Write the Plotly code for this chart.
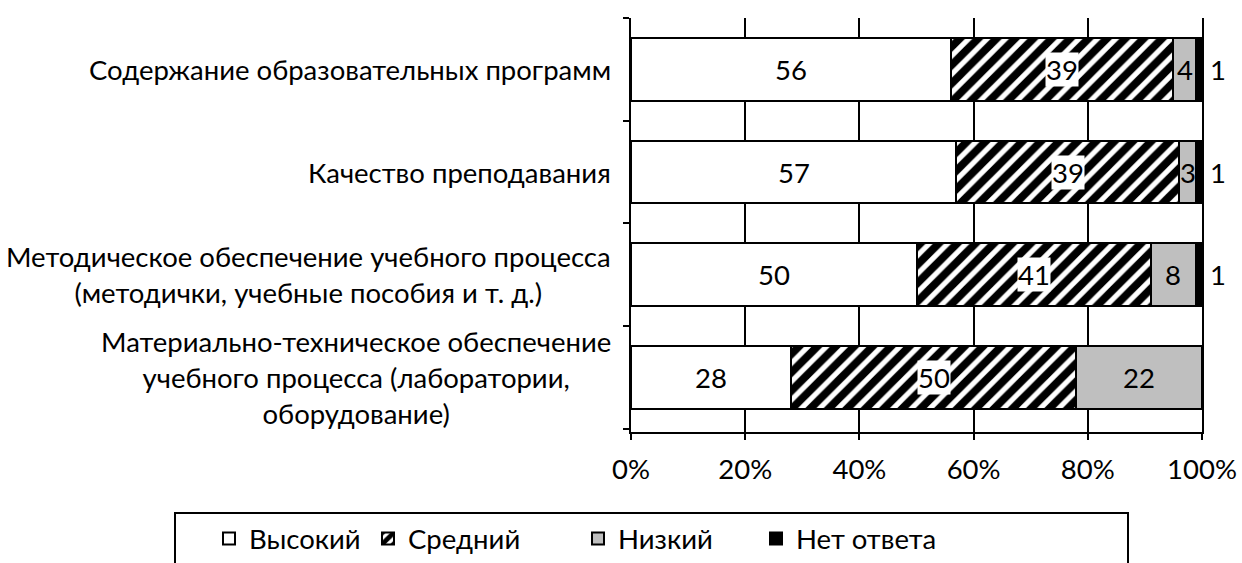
import plotly.graph_objects as go

categories = [
    "Содержание образовательных программ",
    "Качество преподавания",
    "Методическое обеспечение учебного процесса<br>(методички, учебные пособия и т. д.)",
    "Материально-техническое обеспечение<br>учебного процесса (лаборатории,<br>оборудование)",
]
series_names = ["Высокий", "Средний", "Низкий", "Нет ответа"]
high = [56, 57, 50, 28]
medium = [39, 39, 41, 50]
low = [4, 3, 8, 22]
no_answer = [1, 1, 1, 0]
x_ticks = [0, 20, 40, 60, 80, 100]
x_tick_labels = ["0%", "20%", "40%", "60%", "80%", "100%"]

FONT = "Lato"
FS = 27.5
values = [high, medium, low, no_answer]
fills = ["white", "white", "#bfbfbf", "black"]
legend_widths = [114, 165, 133, 160]

W, H = 1242, 563
L, R, T, B = 631, 40, 18, 131
PW, PH = W - L - R, H - T - B

fig = go.Figure()
for i, (name, vals) in enumerate(zip(series_names, values)):
    marker = dict(color=fills[i], line=dict(color="black", width=2))
    if i == 1:
        marker["pattern"] = dict(shape="/", fgcolor="black", bgcolor="white", fgopacity=1,
                                 size=13, solidity=0.6, fillmode="overlay")
    fig.add_trace(go.Bar(
        name=name, y=categories, x=vals, orientation="h",
        marker=marker, hoverinfo="skip", legendwidth=legend_widths[i],
    ))

annotations = []
for ci, cat in enumerate(categories):
    start = 0
    for si, vals in enumerate(values):
        v = vals[ci]
        if v > 0:
            if si == 3:
                annotations.append(dict(x=100, y=cat, xref="x", yref="y", text=str(v),
                                        showarrow=False, xanchor="left", xshift=6,
                                        font=dict(family=FONT, size=FS, color="black")))
            else:
                annotations.append(dict(x=start + v / 2, y=cat, xref="x", yref="y", text=str(v),
                                        showarrow=False, bgcolor="white" if si == 1 else None,
                                        borderpad=0,
                                        font=dict(family=FONT, size=FS, color="black")))
        start += v
    annotations.append(dict(x=0, y=cat, xref="paper", yref="y", text=cat, showarrow=False,
                            xanchor="right", align="center", xshift=-18,
                            font=dict(family=FONT, size=FS, color="black")))


def px_x(p):
    return (p - L) / PW


def px_y(p):
    return (H - B - p) / PH


# legend frame (extends below the visible page like the reference)
shapes = [dict(type="rect", xref="paper", yref="paper",
               x0=px_x(175), x1=px_x(1128), y0=px_y(513), y1=px_y(620),
               line=dict(color="black", width=2), fillcolor="rgba(0,0,0,0)", layer="above")]

fig.update_layout(
    barmode="stack",
    bargap=0.39,
    width=W, height=H,
    margin=dict(l=L, r=R, t=T, b=B, autoexpand=False),
    plot_bgcolor="white", paper_bgcolor="white",
    font=dict(family=FONT, size=FS, color="black"),
    annotations=annotations,
    shapes=shapes,
    showlegend=True,
    legend=dict(
        orientation="h", xref="paper", yref="paper",
        x=px_x(209), xanchor="left", y=px_y(514), yanchor="top",
        borderwidth=0, bgcolor="rgba(0,0,0,0)",
        traceorder="normal",
        font=dict(family=FONT, size=FS, color="black"),
    ),
    xaxis=dict(
        range=[0, 100], tickvals=x_ticks, ticktext=x_tick_labels,
        showgrid=True, gridcolor="black", gridwidth=2,
        zeroline=False, showline=True, linecolor="black", linewidth=2,
        ticks="outside", ticklen=6, tickwidth=2, tickcolor="black",
        ticklabelstandoff=6, automargin=False,
    ),
    yaxis=dict(
        categoryorder="array", categoryarray=categories[::-1],
        showticklabels=False, tickson="boundaries",
        ticks="outside", ticklen=6, tickwidth=2, tickcolor="black",
        showline=True, mirror=True, linecolor="black", linewidth=2,
        showgrid=False, zeroline=False, automargin=False,
    ),
)

fig.write_html("out.html", config={"displayModeBar": False},
               post_script="document.body.style.margin='0';document.body.style.overflow='hidden';")
